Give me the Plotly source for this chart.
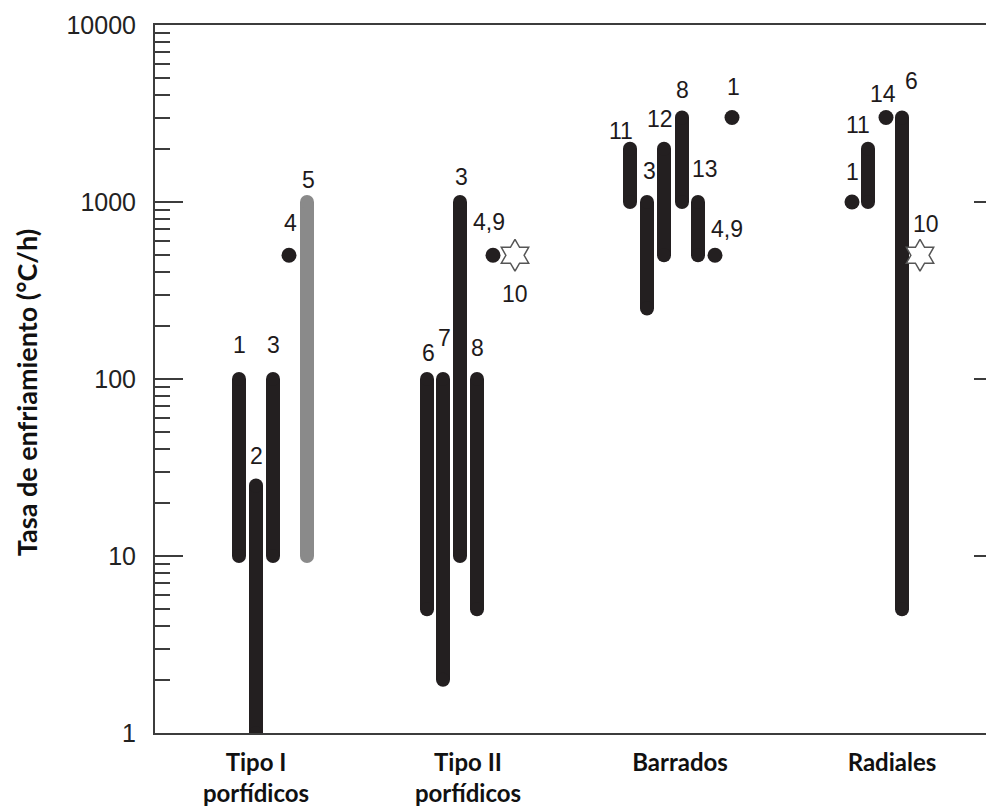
import numpy as np
import plotly.graph_objects as go

# ---------------- data ----------------
categories = ["Tipo I<br>porfídicos", "Tipo II<br>porfídicos", "Barrados", "Radiales"]

# vertical ranges (cooling-rate intervals, °C/h)
bar_group = [0, 0, 0, 0, 1, 1, 1, 1, 2, 2, 2, 2, 2, 3, 3]
bar_label = ["1", "2", "3", "5", "6", "7", "3", "8", "11", "3", "12", "8", "13", "11", "6"]
bar_low = [10, 1, 10, 10, 5, 2, 10, 5, 1000, 250, 500, 1000, 500, 1000, 5]
bar_high = [100, 25, 100, 1000, 100, 100, 1000, 100, 2000, 1000, 2000, 3000, 1000, 2000, 3000]

# single values (dots)
dot_group = [0, 1, 2, 2, 3, 3]
dot_label = ["4", "4,9", "4,9", "1", "1", "14"]
dot_value = [500, 500, 500, 3000, 1000, 3000]

# single values (stars)
star_group = [1, 3]
star_label = ["10", "10"]
star_value = [500, 500]

y_tick_vals = [1, 10, 100, 1000, 10000]
y_tick_text = ["1", "10", "100", "1000", "10000"]

# ---------------- layout / style ----------------
UNIT = 212.0  # px per category step
bar_dx = [-17, 0, 17, 51, -41, -25, -8, 9, -50, -33, -16, 2, 18, -24, 10]
bar_color = ["#231f20"] * 3 + ["#8a8a8a"] + ["#231f20"] * 11
bar_lbl_shift = [(0, -34), (0, -30), (0, -34), (1, -22), (1, -26), (1, -41), (1, -25), (0, -31),
                 (-9, -18), (2, -31), (-4, -30), (0, -28), (7, -33), (-10, -24), (9, -37)]
dot_dx = [33, 25, 35, 52, -40, -6]
dot_lbl_shift = [(1, -32), (-4, -33), (12, -26), (1, -31), (0, -30), (-3, -24)]
star_dx = [47, 28]
star_lbl_shift = [(0, 39), (6, -31)]

BLACK = "#231f20"
AXC = "#3c3c3c"
NUMFONT = dict(family="Liberation Sans, Arial, sans-serif", size=23, color="#1e1a1b")
CATFONT = dict(family="Lato, sans-serif", size=24, color="#111111", weight="bold")

fig = go.Figure()
annotations = []

for g, lab, lo, hi, dx, col, sh in zip(bar_group, bar_label, bar_low, bar_high, bar_dx, bar_color, bar_lbl_shift):
    x = g + dx / UNIT
    fig.add_trace(go.Scatter(
        x=[x, x], y=[lo, hi], mode="lines+markers",
        line=dict(color=col, width=14),
        marker=dict(color=col, size=14, line=dict(width=0)),
        hoverinfo="skip", showlegend=False))
    annotations.append(dict(x=x, y=np.log10(hi), text=lab, showarrow=False,
                            xshift=sh[0], yshift=-sh[1], font=NUMFONT))

dot_x = [g + dx / UNIT for g, dx in zip(dot_group, dot_dx)]
fig.add_trace(go.Scatter(x=dot_x, y=dot_value, mode="markers",
                         marker=dict(color=BLACK, size=15, line=dict(width=0)),
                         hoverinfo="skip", showlegend=False))
for x, v, lab, sh in zip(dot_x, dot_value, dot_label, dot_lbl_shift):
    annotations.append(dict(x=x, y=np.log10(v), text=lab, showarrow=False,
                            xshift=sh[0], yshift=-sh[1], font=NUMFONT))

star_x = [g + dx / UNIT for g, dx in zip(star_group, star_dx)]
fig.add_trace(go.Scatter(x=star_x, y=star_value, mode="markers",
                         marker=dict(symbol="hexagram", color="white", size=24,
                                     line=dict(color="#555555", width=1.5)),
                         hoverinfo="skip", showlegend=False))
for x, v, lab, sh in zip(star_x, star_value, star_label, star_lbl_shift):
    annotations.append(dict(x=x, y=np.log10(v), text=lab, showarrow=False,
                            xshift=sh[0], yshift=-sh[1], font=NUMFONT))

# empty trace so the right-hand tick axis is drawn
fig.add_trace(go.Scatter(x=[None], y=[None], yaxis="y2", hoverinfo="skip", showlegend=False))

minor_vals = [m * 10 ** e for e in range(0, 4) for m in range(2, 10)]

# page body has an 8px default margin -> figure is sized/offset to compensate
W, H = 986, 800
ML, MR, MT, MB = 147, 0, 17, 75
PLOT_W = W - ML - MR
x_left = -(256 - 8 - ML) / UNIT
x_right = x_left + PLOT_W / UNIT

annotations.append(dict(xref="paper", yref="paper", x=(18 - ML) / PLOT_W, y=0.48,
                        text="Tasa de enfriamiento (°C/h)", textangle=-90, showarrow=False,
                        xanchor="center", yanchor="middle",
                        font=dict(family="Lato, sans-serif", size=27, color="#111111", weight="bold")))

fig.update_layout(
    width=W, height=H,
    margin=dict(l=ML, r=MR, t=MT, b=MB, autoexpand=False),
    paper_bgcolor="white", plot_bgcolor="white",
    showlegend=False, hovermode=False,
    annotations=annotations,
    xaxis=dict(range=[x_left, x_right], tickvals=[0, 1, 2, 3], ticktext=categories,
               ticks="", showgrid=False, zeroline=False, automargin=False,
               showline=True, linecolor=AXC, linewidth=2, mirror=True,
               tickfont=CATFONT, ticklabelstandoff=7),
    yaxis=dict(type="log", range=[0, 4], tickmode="array", tickvals=y_tick_vals, ticktext=y_tick_text,
               ticks="inside", ticklen=28, tickwidth=2, tickcolor=AXC, automargin=False,
               minor=dict(tickmode="array", tickvals=minor_vals, ticks="inside", ticklen=15,
                          tickwidth=2, tickcolor=AXC, showgrid=False),
               showline=True, linecolor=AXC, linewidth=2, mirror=False,
               showgrid=False, zeroline=False,
               tickfont=dict(family="Liberation Sans, Arial, sans-serif", size=25, color="#222222"),
               ticklabelstandoff=12),
    yaxis2=dict(type="log", range=[0, 4], overlaying="y", side="right", anchor="free", position=1,
                tickmode="array", tickvals=y_tick_vals, showticklabels=False, automargin=False,
                ticks="inside", ticklen=20, tickwidth=2, tickcolor=AXC,
                minor=dict(tickmode="array", tickvals=minor_vals, ticks="inside", ticklen=8,
                           tickwidth=2, tickcolor=AXC, showgrid=False),
                showline=False, showgrid=False, zeroline=False),
)

fig.write_html("out.html", config={"displayModeBar": False})
